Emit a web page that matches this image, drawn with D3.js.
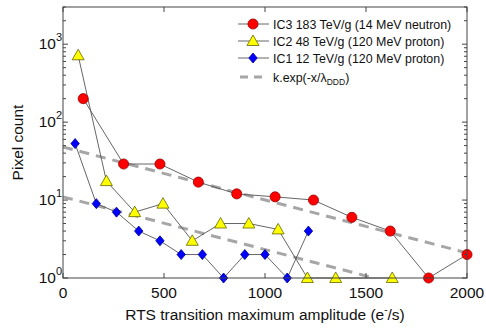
<!DOCTYPE html>
<html>
<head>
<meta charset="utf-8">
<script src="https://cdn.jsdelivr.net/npm/d3@7"></script>
<style>
  body { margin: 0; background: #fff; }
  svg { font-family: "Liberation Sans", Arial, sans-serif; }
</style>
</head>
<body>
<svg width="486" height="329"></svg>
<script>
// data
var ic3X = [100, 300, 480, 670, 860, 1050, 1240, 1430, 1620, 1810, 2000];
var ic3Y = [200, 29, 29, 17, 12, 11, 10, 6, 4, 1, 2];
var ic2X = [75, 215, 355, 495, 640, 780, 920, 1065, 1210, 1350, 1630];
var ic2Y = [720, 17.5, 7, 9, 3, 5, 5, 4.2, 1, 1, 1];
var ic1X = [60, 165, 265, 375, 480, 585, 690, 795, 900, 1000, 1110, 1215];
var ic1Y = [53, 9, 7, 4, 3, 2, 2, 1, 2, 2, 1, 4];
// fit lines k.exp(-x/lambda), end points
var fitAX = [0, 2000];
var fitAY = [48, 2.1];
var fitBX = [0, 1540];
var fitBY = [11, 1];
var xTicks = [0, 500, 1000, 1500, 2000];
var yTicks = [1, 10, 100, 1000];

var svg = d3.select('svg');
var mLeft = 63, mRight = 467, mTop = 7, mBottom = 278;

var x = d3.scaleLinear().domain([0, 2000]).range([mLeft, mRight]);
var y = d3.scaleLog().domain([1, 3000]).range([mBottom, mTop]);

var g = svg.append('g');

// dashed fit lines
var line = d3.line().x(function(d) { return x(d[0]); }).y(function(d) { return y(d[1]); });
[[fitAX, fitAY], [fitBX, fitBY]].forEach(function(f) {
  g.append('path')
    .attr('d', line(d3.zip(f[0], f[1])))
    .attr('fill', 'none')
    .attr('stroke', '#a6a6a6')
    .attr('stroke-width', 3)
    .attr('stroke-dasharray', '10,7');
});

function series(xs, ys, shape, fill, stroke) {
  var pts = d3.zip(xs, ys);
  g.append('path')
    .attr('d', line(pts))
    .attr('fill', 'none')
    .attr('stroke', '#555')
    .attr('stroke-width', 0.9);
  g.selectAll(null).data(pts).enter().append('path')
    .attr('transform', function(d) { return 'translate(' + x(d[0]) + ',' + y(d[1]) + ')'; })
    .attr('d', shape)
    .attr('fill', fill)
    .attr('stroke', stroke)
    .attr('stroke-width', 0.8);
}

var circleShape = d3.symbol(d3.symbolCircle, 80)();
var triShape = 'M0,-6L6,4.5L-6,4.5Z';
var diaShape = 'M0,-5L4.2,0L0,5L-4.2,0Z';

series(ic1X, ic1Y, diaShape, '#0000ff', '#00008b');
series(ic2X, ic2Y, triShape, '#ffff00', '#666600');
series(ic3X, ic3Y, circleShape, '#ff0000', '#990000');

// frame
svg.append('rect')
  .attr('x', mLeft).attr('y', mTop)
  .attr('width', mRight - mLeft).attr('height', mBottom - mTop)
  .attr('fill', 'none').attr('stroke', '#444').attr('stroke-width', 1);

// ticks (inward)
var ax = svg.append('g').attr('stroke', '#444').attr('stroke-width', 1);
xTicks.forEach(function(t) {
  ax.append('line').attr('x1', x(t)).attr('x2', x(t)).attr('y1', mBottom).attr('y2', mBottom - 5);
  ax.append('line').attr('x1', x(t)).attr('x2', x(t)).attr('y1', mTop).attr('y2', mTop + 5);
});
y.ticks().forEach(function(t) {
  var major = yTicks.indexOf(t) >= 0;
  var len = major ? 5 : 3;
  ax.append('line').attr('x1', mLeft).attr('x2', mLeft + len).attr('y1', y(t)).attr('y2', y(t));
  ax.append('line').attr('x1', mRight).attr('x2', mRight - len).attr('y1', y(t)).attr('y2', y(t));
});

// tick labels
svg.selectAll('.xl').data(xTicks).enter().append('text')
  .attr('x', function(d) { return x(d); })
  .attr('y', 298)
  .attr('text-anchor', 'middle')
  .attr('font-size', 15.5)
  .attr('fill', '#111')
  .text(function(d) { return d; });

yTicks.forEach(function(t) {
  var tx = svg.append('text')
    .attr('x', mLeft - 1)
    .attr('y', y(t) + 5)
    .attr('text-anchor', 'end')
    .attr('font-size', 15.5)
    .attr('fill', '#111');
  tx.append('tspan').text('10');
  tx.append('tspan').attr('font-size', 11).attr('dy', -8).text(Math.round(Math.log10(t)));
});

// axis titles
var xt = svg.append('text')
  .attr('x', (mLeft + mRight) / 2)
  .attr('y', 320)
  .attr('text-anchor', 'middle')
  .attr('font-size', 15.5)
  .attr('fill', '#111');
xt.append('tspan').text('RTS transition maximum amplitude (e');
xt.append('tspan').attr('font-size', 10).attr('dy', -7).text('-');
xt.append('tspan').attr('dy', 7).text('/s)');

svg.append('text')
  .attr('transform', 'translate(23,' + ((mTop + mBottom) / 2) + ') rotate(-90)')
  .attr('text-anchor', 'middle')
  .attr('font-size', 15.5)
  .attr('fill', '#111')
  .text('Pixel count');

// legend
var legend = svg.append('g');
var legItems = [
  { label: 'IC3 183 TeV/g (14 MeV neutron)', shape: circleShape, fill: '#ff0000', stroke: '#990000' },
  { label: 'IC2 48 TeV/g (120 MeV proton)', shape: triShape, fill: '#ffff00', stroke: '#666600' },
  { label: 'IC1 12 TeV/g (120 MeV proton)', shape: diaShape, fill: '#0000ff', stroke: '#00008b' }
];
legItems.forEach(function(d, i) {
  var ly = 24 + i * 17;
  legend.append('line').attr('x1', 238).attr('x2', 269).attr('y1', ly).attr('y2', ly)
    .attr('stroke', '#555').attr('stroke-width', 0.9);
  legend.append('path').attr('transform', 'translate(253,' + ly + ')').attr('d', d.shape)
    .attr('fill', d.fill).attr('stroke', d.stroke).attr('stroke-width', 0.8);
  legend.append('text').attr('x', 273).attr('y', ly + 4.5).attr('font-size', 12.4).attr('fill', '#111')
    .text(d.label);
});
legend.append('line').attr('x1', 240).attr('x2', 268).attr('y1', 77).attr('y2', 77)
  .attr('stroke', '#a6a6a6').attr('stroke-width', 3).attr('stroke-dasharray', '8,6');
var lt = legend.append('text').attr('x', 273).attr('y', 81.5).attr('font-size', 12.4).attr('fill', '#111');
lt.append('tspan').text('k.exp(-x/\u03bb');
lt.append('tspan').attr('font-size', 8.5).attr('dy', 3).text('DDD');
lt.append('tspan').attr('dy', -3).text(')');
</script>
</body>
</html>
